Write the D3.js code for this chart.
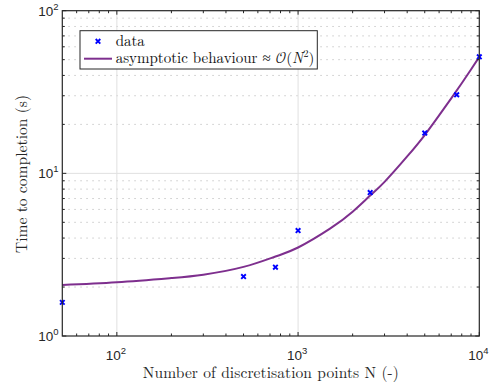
<!DOCTYPE html>
<html><head><meta charset="utf-8">
<script src="https://cdn.jsdelivr.net/npm/d3@7"></script>
<style>body{margin:0;background:#fff}svg{display:block}
.serif{font-family:"Latin Modern Roman","Liberation Serif","DejaVu Serif",serif}
.math{font-family:"Latin Modern Math","Latin Modern Roman","Liberation Serif",serif}
.sans{font-family:"Liberation Sans",Arial,Helvetica,sans-serif}
</style>
</head><body>
<svg id="c" width="497" height="387"></svg>
<script>
// ---- data ----
const dataN = [50, 500, 750, 1000, 2500, 5000, 7500, 10000];
const dataT = [1.61, 2.32, 2.65, 4.45, 7.62, 17.7, 30.4, 52.1];
const curveN = [50, 100, 200, 300, 500, 750, 1000, 1500, 2000, 2500, 3000, 4000, 5000, 6000, 7000, 8000, 9000, 10000];
const curveT = [2.06, 2.14, 2.27, 2.38, 2.66, 3.08, 3.50, 4.57, 5.81, 7.30, 8.86, 12.7, 17.2, 22.7, 28.9, 35.8, 43.5, 52.0];
const xTickExp = [2, 3, 4];
const yTickExp = [0, 1, 2];
const legendLabels = ["data", "asymptotic behaviour"];
const xLabel = "Number of discretisation points N (-)";
const yLabel = "Time to completion (s)";

const svg = d3.select("#c");
const L = 62.3, R = 479.3, T = 10.7, B = 336;
const x = d3.scaleLog().domain([50, 10000]).range([L, R]);
const y = d3.scaleLog().domain([1, 100]).range([B, T]);
const axisCol = "#262626";

const xMinor = [], yMinor = [];
for (let e = 1; e <= 3; e++) for (let m = 2; m <= 9; m++) { const v = m * 10 ** e; if (v > 50 && v < 10000) xMinor.push(v); }
for (let e = 0; e <= 1; e++) for (let m = 2; m <= 9; m++) yMinor.push(m * 10 ** e);
const xMajor = xTickExp.map(e => 10 ** e), yMajor = yTickExp.map(e => 10 ** e);

// grid
const g = svg.append("g");
g.selectAll(".ymin").data(yMinor).join("line")
  .attr("x1", L).attr("x2", R).attr("y1", d => y(d)).attr("y2", d => y(d))
  .attr("stroke", "#c9c9c9").attr("stroke-width", 1).attr("stroke-dasharray", "1.5 4.5");
g.selectAll(".ymaj").data(yMajor.filter(v => v > 1 && v < 100)).join("line")
  .attr("x1", L).attr("x2", R).attr("y1", d => y(d)).attr("y2", d => y(d))
  .attr("stroke", "#e0e0e0").attr("stroke-width", 1);
g.selectAll(".xmaj").data(xMajor.filter(v => v < 10000)).join("line")
  .attr("y1", T).attr("y2", B).attr("x1", d => x(d)).attr("x2", d => x(d))
  .attr("stroke", "#e0e0e0").attr("stroke-width", 1);

// curve
const line = d3.line().x(d => x(d[0])).y(d => y(d[1])).curve(d3.curveNatural);
svg.append("path").datum(curveN.map((n, i) => [n, curveT[i]]))
  .attr("d", line).attr("fill", "none").attr("stroke", "#7E2F8E").attr("stroke-width", 2);

// markers
const cross = s => `M${-s},${-s}L${s},${s}M${-s},${s}L${s},${-s}`;
svg.selectAll(".pt").data(dataN.map((n, i) => [n, dataT[i]])).join("path")
  .attr("transform", d => `translate(${x(d[0])},${y(d[1])})`)
  .attr("d", cross(2.3)).attr("stroke", "#0000ff").attr("stroke-width", 1.9).attr("fill", "none");

// axes frame with inside ticks
const ax = svg.append("g").attr("stroke", axisCol).attr("fill", "none");
ax.append("rect").attr("x", L).attr("y", T).attr("width", R - L).attr("height", B - T).attr("stroke-width", 1.2);
const tk = (vals, len) => vals.forEach(v => {
  const xv = x(v);
  ax.append("line").attr("x1", xv).attr("x2", xv).attr("y1", B).attr("y2", B - len).attr("stroke-width", 1);
  ax.append("line").attr("x1", xv).attr("x2", xv).attr("y1", T).attr("y2", T + len).attr("stroke-width", 1);
});
const tky = (vals, len) => vals.forEach(v => {
  const yv = y(v);
  ax.append("line").attr("y1", yv).attr("y2", yv).attr("x1", L).attr("x2", L + len).attr("stroke-width", 1);
  ax.append("line").attr("y1", yv).attr("y2", yv).attr("x1", R).attr("x2", R - len).attr("stroke-width", 1);
});
tk(xMinor, 2.5); tk(xMajor, 4);
tky(yMinor, 2.5); tky(yMajor, 4);

// tick labels
xTickExp.forEach(e => {
  const t = svg.append("text").attr("class", "sans").attr("x", x(10 ** e) - 1).attr("y", 359.5)
    .attr("text-anchor", "middle").attr("font-size", 13.5).attr("fill", axisCol);
  t.append("tspan").text("10");
  t.append("tspan").attr("dy", -6).attr("font-size", 9.5).text(e);
});
yTickExp.forEach(e => {
  const t = svg.append("text").attr("class", "sans").attr("x", 58.5).attr("y", y(10 ** e) + 4.9)
    .attr("text-anchor", "end").attr("font-size", 13.5).attr("fill", axisCol);
  t.append("tspan").text("10");
  t.append("tspan").attr("dy", -6).attr("font-size", 9.5).text(e);
});

// axis labels
svg.append("text").attr("class", "serif").attr("x", (L + R) / 2).attr("y", 377.5).attr("text-anchor", "middle")
  .attr("font-size", 15.5).attr("fill", "#262626")
  .attr("textLength", 256).attr("lengthAdjust", "spacing").text(xLabel);
svg.append("text").attr("class", "serif").attr("transform", `translate(26.5,174) rotate(-90)`).attr("text-anchor", "middle")
  .attr("font-size", 15.5).attr("fill", "#262626")
  .attr("textLength", 158).attr("lengthAdjust", "spacing").text(yLabel);

// legend
const lg = svg.append("g");
lg.append("rect").attr("x", 80).attr("y", 30.7).attr("width", 237.3).attr("height", 38.3)
  .attr("fill", "#fff").attr("stroke", axisCol).attr("stroke-width", 1);
lg.append("path").attr("transform", "translate(98,41.3)").attr("d", cross(2.3))
  .attr("stroke", "#0000ff").attr("stroke-width", 1.9).attr("fill", "none");
lg.append("line").attr("x1", 84).attr("x2", 112).attr("y1", 58.7).attr("y2", 58.7)
  .attr("stroke", "#7E2F8E").attr("stroke-width", 2);
lg.append("text").attr("class", "serif").attr("x", 115.7).attr("y", 45.5).attr("font-size", 15)
  .attr("fill", "#111").text(legendLabels[0]);
const t2 = lg.append("text").attr("class", "serif").attr("x", 115.7).attr("y", 62.5).attr("font-size", 15)
  .attr("fill", "#111");
t2.append("tspan").text(legendLabels[1] + " \u2248 ");
t2.append("tspan").attr("class", "math").text("\uD835\uDCAA");
t2.append("tspan").text("(");
t2.append("tspan").attr("font-style", "italic").text("N");
t2.append("tspan").attr("dy", -5.5).attr("font-size", 10.5).text("2");
t2.append("tspan").attr("dy", 5.5).text(")");
</script>
</body></html>
